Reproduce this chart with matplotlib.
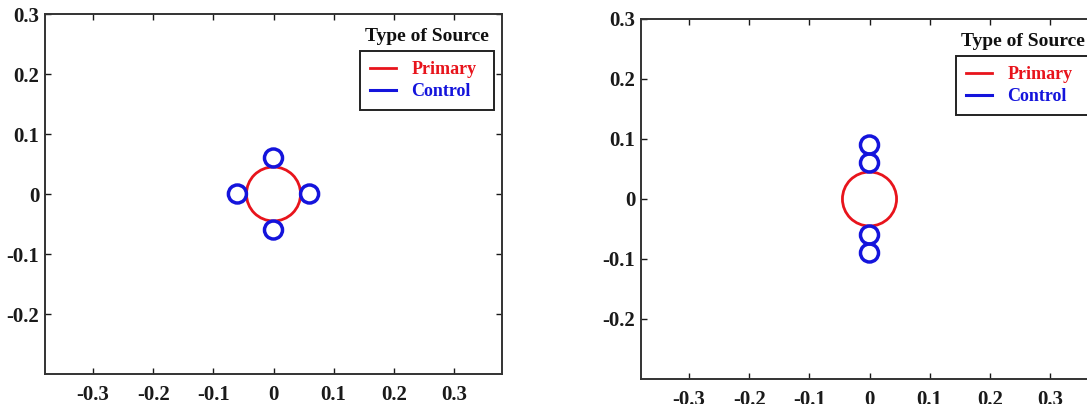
import matplotlib
matplotlib.use("Agg")
import matplotlib.pyplot as plt
from matplotlib.patches import Circle
from matplotlib.lines import Line2D

# police serif grasse pour tout le texte
plt.rcParams['font.family'] = ['Liberation Serif', 'DejaVu Serif']
plt.rcParams['font.weight'] = 'bold'

# Données : source primaire et sources de contrôle (centres et rayons)
primary_x = [0.0]
primary_y = [0.0]
primary_r = 0.045

control_left_x = [0.0, 0.06, 0.0, -0.06]
control_left_y = [0.06, 0.0, -0.06, 0.0]

control_right_x = [0.0, 0.0, 0.0, 0.0]
control_right_y = [0.09, 0.06, -0.06, -0.09]
control_r = 0.015

x_ticks = [-0.3, -0.2, -0.1, 0, 0.1, 0.2, 0.3]
y_ticks = [-0.2, -0.1, 0, 0.1, 0.2, 0.3]
tick_labels_x = ['-0.3', '-0.2', '-0.1', '0', '0.1', '0.2', '0.3']
tick_labels_y = ['-0.2', '-0.1', '0', '0.1', '0.2', '0.3']

legend_title = 'Type of Source'
legend_names = ['Primary', 'Control']

RED = '#e8141c'
BLUE = '#1414dc'
W, H = 1087, 404

fig = plt.figure(figsize=(W / 100, H / 100), dpi=100)
ax1 = fig.add_axes([45 / W, 1 - 374 / H, 457 / W, 360 / H])
ax2 = fig.add_axes([641 / W, 1 - 379 / H, 457 / W, 360 / H])


def dessiner(ax, cx, cy):
    for x, y in zip(primary_x, primary_y):
        ax.add_patch(Circle((x, y), primary_r, fill=False, ec=RED, lw=2.0))
    for x, y in zip(cx, cy):
        ax.add_patch(Circle((x, y), control_r, fill=False, ec=BLUE, lw=2.5))

    ax.set_xlim(-0.38, 0.38)
    ax.set_ylim(-0.3, 0.3)
    ax.set_xticks(x_ticks)
    ax.set_xticklabels(tick_labels_x)
    ax.set_yticks(y_ticks)
    ax.set_yticklabels(tick_labels_y)
    ax.tick_params(direction='in', length=4, width=1, top=True, right=True,
                   labelsize=15, colors='#1a1a1a')
    ax.tick_params(axis='x', pad=8)
    ax.tick_params(axis='y', pad=4)
    for s in ax.spines.values():
        s.set_linewidth(1.4)
        s.set_color('#333333')

    # légende : boîte élargie à la largeur voulue (mode expand)
    handles = [Line2D([], [], color=RED, lw=2.0), Line2D([], [], color=BLUE, lw=2.2)]
    leg = ax.legend(handles, legend_names, loc='upper left', mode='expand',
                    bbox_to_anchor=(0.689, 0.897, 0.293, 0.0), borderaxespad=0,
                    fancybox=False, edgecolor='#222222', framealpha=1,
                    handlelength=1.45, handletextpad=0.85,
                    borderpad=0.55, labelspacing=0.3, prop={'weight': 'bold', 'size': 13})
    leg.get_frame().set_linewidth(1.4)
    for t, c in zip(leg.get_texts(), [RED, BLUE]):
        t.set_color(c)
    ax.text(0.836, 0.937, legend_title, transform=ax.transAxes, ha='center',
            va='center', fontsize=14, fontweight='bold', color='#111111')


dessiner(ax1, control_left_x, control_left_y)
dessiner(ax2, control_right_x, control_right_y)

fig.savefig('out.png', dpi=100)
